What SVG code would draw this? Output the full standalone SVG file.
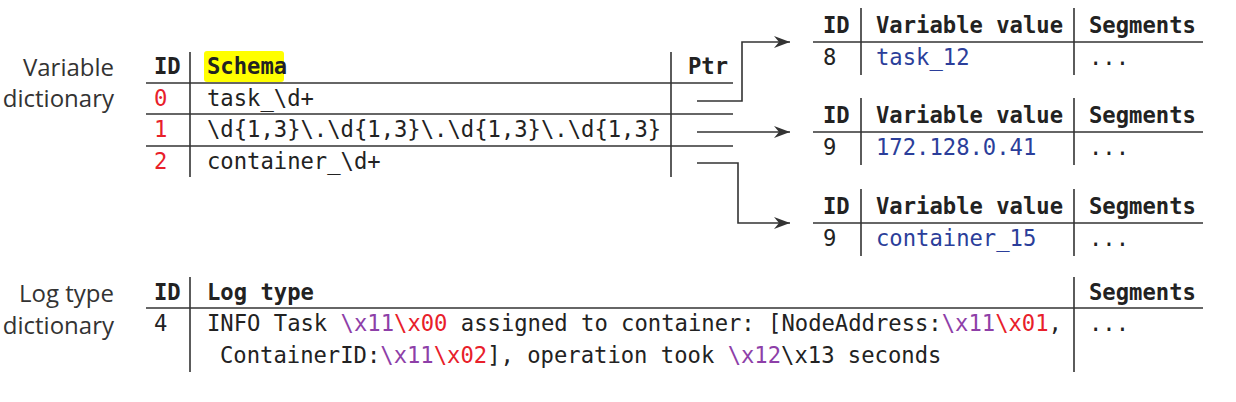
<svg xmlns="http://www.w3.org/2000/svg" width="1236" height="402" viewBox="0 0 1236 402">
<style>
.lbl{font-family:"Open Sans","Noto Sans",sans-serif;font-size:24px;fill:#333;text-anchor:end}
.m{font-family:"DejaVu Sans Mono","Liberation Mono",monospace;font-size:22.2px;fill:#222}
.b{font-weight:bold}
.red{fill:#e8202a}
.blue{fill:#2b3e9a}
.pur{fill:#8e3fa8}
.g{stroke:#333;stroke-width:1.6;fill:none}
.c{stroke:#333;stroke-width:1.6;fill:none;marker-end:url(#ah)}
</style>
<defs>
<marker id="ah" markerUnits="userSpaceOnUse" markerWidth="18" markerHeight="12" refX="16" refY="6" orient="auto">
<path d="M0,0 L16,6 L0,12 L5,6 z" fill="#333"/>
</marker>
</defs>
<rect width="1236" height="402" fill="#fff"/>

<g id="var-dict-label">
<text class="lbl" x="114" y="76">Variable</text>
<text class="lbl" x="114" y="107">dictionary</text>
</g>

<g id="var-dict">
<rect x="204" y="51" width="80" height="31" rx="3" fill="#ffff00"/>
<line class="g" x1="190" y1="52" x2="190" y2="177"/>
<line class="g" x1="671" y1="52" x2="671" y2="177"/>
<line class="g" x1="146" y1="83" x2="733" y2="83"/>
<line class="g" x1="146" y1="114" x2="733" y2="114"/>
<line class="g" x1="146" y1="146" x2="733" y2="146"/>
<text class="m b" x="154" y="74">ID</text>
<text class="m b" x="207" y="74">Schema</text>
<text class="m b" x="688" y="74">Ptr</text>
<text class="m red" x="154" y="106">0</text>
<text class="m" x="207" y="106">task_\d+</text>
<text class="m red" x="154" y="137">1</text>
<text class="m" x="207" y="137">\d{1,3}\.\d{1,3}\.\d{1,3}\.\d{1,3}</text>
<text class="m red" x="154" y="169">2</text>
<text class="m" x="207" y="169">container_\d+</text>
</g>

<g id="value-8">
<line class="g" x1="861" y1="8" x2="861" y2="75"/>
<line class="g" x1="1074" y1="8" x2="1074" y2="75"/>
<line class="g" x1="813" y1="42" x2="1203" y2="42"/>
<text class="m b" x="823" y="33">ID</text>
<text class="m b" x="876" y="33">Variable value</text>
<text class="m b" x="1089" y="33">Segments</text>
<text class="m" x="823" y="65">8</text>
<text class="m blue" x="876" y="65">task_12</text>
<text class="m" x="1089" y="65">...</text>
</g>

<g id="value-9a">
<line class="g" x1="861" y1="98" x2="861" y2="165"/>
<line class="g" x1="1074" y1="98" x2="1074" y2="165"/>
<line class="g" x1="813" y1="132" x2="1203" y2="132"/>
<text class="m b" x="823" y="123">ID</text>
<text class="m b" x="876" y="123">Variable value</text>
<text class="m b" x="1089" y="123">Segments</text>
<text class="m" x="823" y="155">9</text>
<text class="m blue" x="876" y="155">172.128.0.41</text>
<text class="m" x="1089" y="155">...</text>
</g>

<g id="value-9b">
<line class="g" x1="861" y1="189" x2="861" y2="256"/>
<line class="g" x1="1074" y1="189" x2="1074" y2="256"/>
<line class="g" x1="813" y1="223" x2="1203" y2="223"/>
<text class="m b" x="823" y="214">ID</text>
<text class="m b" x="876" y="214">Variable value</text>
<text class="m b" x="1089" y="214">Segments</text>
<text class="m" x="823" y="246">9</text>
<text class="m blue" x="876" y="246">container_15</text>
<text class="m" x="1089" y="246">...</text>
</g>

<g id="connectors">
<polyline class="c" points="697,101 742,101 742,42 790,42"/>
<polyline class="c" points="697,132 790,132"/>
<polyline class="c" points="697,163 738,163 738,223 790,223"/>
</g>

<g id="log-dict-label">
<text class="lbl" x="114" y="302">Log type</text>
<text class="lbl" x="114" y="334">dictionary</text>
</g>

<g id="log-dict">
<line class="g" x1="190" y1="277" x2="190" y2="372"/>
<line class="g" x1="1074" y1="277" x2="1074" y2="372"/>
<line class="g" x1="146" y1="308" x2="1203" y2="308"/>
<text class="m b" x="154" y="300">ID</text>
<text class="m b" x="207" y="300">Log type</text>
<text class="m b" x="1089" y="300">Segments</text>
<text class="m" x="154" y="331">4</text>
<text class="m" x="207" y="331" xml:space="preserve">INFO Task <tspan class="pur">\x11</tspan><tspan class="red">\x00</tspan> assigned to container: [NodeAddress:<tspan class="pur">\x11</tspan><tspan class="red">\x01</tspan>,</text>
<text class="m" x="1089" y="331">...</text>
<text class="m" x="220" y="363" xml:space="preserve">ContainerID:<tspan class="pur">\x11</tspan><tspan class="red">\x02</tspan>], operation took <tspan class="pur">\x12</tspan>\x13 seconds</text>
</g>
</svg>
